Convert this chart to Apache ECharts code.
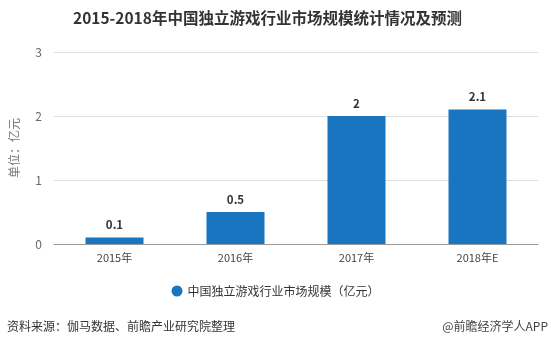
<!DOCTYPE html>
<html>
<head>
<meta charset="utf-8">
<script src="https://cdn.jsdelivr.net/npm/echarts@6/dist/echarts.min.js"></script>
<style>
  html, body { margin: 0; padding: 0; background: #fff; }
  #chart { width: 551px; height: 344px; }
</style>
</head>
<body>
<div id="chart"></div>
<script>
// Market size of China's indie game industry, 2015-2018 (forecast)
const categories = ['2015年', '2016年', '2017年', '2018年E'];
const marketSize = [0.1, 0.5, 2, 2.1];
const yTicks = [0, 1, 2, 3];

const seriesName = '中国独立游戏行业市场规模（亿元）';
const font = '"Microsoft YaHei", "Noto Sans CJK SC", sans-serif';

const chart = echarts.init(document.getElementById('chart'));
chart.setOption({
  animation: false,
  textStyle: { fontFamily: font },
  title: {
    text: '2015-2018年中国独立游戏行业市场规模统计情况及预测',
    left: 68,
    top: 5,
    textStyle: { fontSize: 15.5, fontWeight: 'bold', color: '#333', fontFamily: font }
  },
  legend: {
    data: [seriesName],
    bottom: 42,
    left: 'center',
    icon: 'circle',
    itemWidth: 11,
    itemHeight: 11,
    itemGap: 8,
    textStyle: { fontSize: 12, color: '#333', fontFamily: font }
  },
  grid: { left: 54, right: 13, top: 52, bottom: 100 },
  xAxis: {
    type: 'category',
    data: categories,
    axisLine: { lineStyle: { color: '#999' } },
    axisTick: { alignWithLabel: true, length: 4, lineStyle: { color: '#999' } },
    axisLabel: { color: '#444', fontSize: 11, margin: 8 }
  },
  yAxis: {
    type: 'value',
    min: yTicks[0],
    max: yTicks[yTicks.length - 1],
    interval: 1,
    name: '单位：亿元',
    nameLocation: 'middle',
    nameGap: 34,
    nameTextStyle: { color: '#777', fontSize: 12 },
    axisLine: { show: false },
    axisTick: { show: false },
    axisLabel: { color: '#666', fontSize: 12, margin: 12 },
    splitLine: { lineStyle: { color: '#ddd' } }
  },
  series: [{
    name: seriesName,
    type: 'bar',
    data: marketSize,
    barWidth: 58,
    itemStyle: { color: '#1a75c0' },
    label: {
      show: true,
      position: 'top',
      distance: 7,
      color: '#333',
      fontWeight: 'bold',
      fontSize: 11.5
    }
  }],
  graphic: [
    {
      type: 'text', left: 7, bottom: 12,
      style: { text: '资料来源：伽马数据、前瞻产业研究院整理', fill: '#333', fontSize: 12, fontFamily: font }
    },
    {
      type: 'text', right: 3, bottom: 12,
      style: { text: '@前瞻经济学人APP', fill: '#444', fontSize: 12, fontFamily: font }
    }
  ]
});
</script>
</body>
</html>
